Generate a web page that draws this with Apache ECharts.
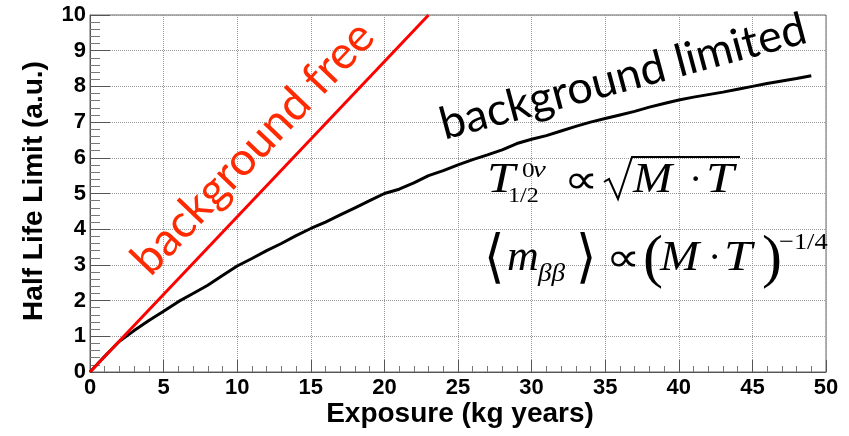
<!DOCTYPE html>
<html>
<head>
<meta charset="utf-8">
<script src="https://cdn.jsdelivr.net/npm/echarts@6/dist/echarts.min.js"></script>
<style>
html,body{margin:0;padding:0;background:#fff;}
#chart{width:849px;height:436px;}
</style>
</head>
<body>
<div id="chart"></div>
<script>
// ---- data ----
var xTicks = [0, 5, 10, 15, 20, 25, 30, 35, 40, 45, 50];
var yTicks = [0, 1, 2, 3, 4, 5, 6, 7, 8, 9, 10];

var bgFreeX = [0, 23];
var bgFreeY = [0, 10];

var bgLimitedX = [0,1,2,3,4,5,6,7,8,9,10,11,12,13,14,15,16,17,18,19,20,21,22,23,24,25,26,27,28,29,30,31,32,33,34,35,36,37,38,39,40,41,42,43,44,45,46,47,48,49];
var bgLimitedY = [0,0.44,0.86,1.16,1.44,1.70,1.97,2.20,2.43,2.70,2.97,3.18,3.40,3.60,3.82,4.02,4.20,4.40,4.60,4.80,5.00,5.12,5.30,5.50,5.64,5.80,5.95,6.08,6.22,6.40,6.52,6.62,6.75,6.88,7.00,7.10,7.20,7.30,7.42,7.52,7.62,7.70,7.77,7.84,7.92,8.00,8.08,8.15,8.22,8.30];

var xTitle = 'Exposure (kg years)';
var yTitle = 'Half Life Limit (a.u.)';
var labelFree = 'background free';
var labelLimited = 'background limited';

function pairs(xs, ys){ return xs.map(function(x,i){ return [x, ys[i]]; }); }

var chart = echarts.init(document.getElementById('chart'), null, {renderer:'canvas'});

var SERIF = '"Liberation Serif","Times New Roman",serif';
var SANS = '"Liberation Sans",Arial,sans-serif';
var CAL = 'Lato,"Open Sans",sans-serif';

// text helper: x = left (or anchor), base = baseline y
function tx(x, base, text, size, opt){
  opt = opt || {};
  return {
    type:'text', x:x, y: base - 0.34*size, scaleX: opt.sx || 1, z:100,
    style:{
      text:text, fontSize:size, fontFamily: opt.family || SERIF,
      fontStyle: opt.italic ? 'italic' : 'normal',
      fontWeight: opt.bold ? 'bold' : 'normal',
      fill: opt.color || '#000', align: opt.align || 'left', verticalAlign:'middle'
    }
  };
}

var graphics = [
  // axis titles
  {type:'text', x:460, y:414, z:100,
   style:{text:xTitle, fontSize:28, fontFamily:SANS, fontWeight:'bold', fill:'#000', align:'center', verticalAlign:'middle'}},
  {type:'text', x:34, y:191, rotation:Math.PI/2, z:100,
   style:{text:yTitle, fontSize:28, fontFamily:SANS, fontWeight:'bold', fill:'#000', align:'center', verticalAlign:'middle'}},
  // annotations
  {type:'text', x:253, y:148, rotation:46.5*Math.PI/180, z:100,
   style:{text:labelFree, fontSize:46, fontFamily:CAL, fill:'#ff2a00', align:'center', verticalAlign:'middle'}},
  {type:'text', x:623, y:77, rotation:15*Math.PI/180, z:100,
   style:{text:labelLimited, fontSize:45, fontFamily:CAL, fill:'#000', align:'center', verticalAlign:'middle'}},
  // formula 1: T^{0v}_{1/2} ∝ sqrt(M·T)
  tx(487, 195, 'T', 42, {italic:true, sx:1.2}),
  tx(522, 179, '0', 22, {sx:1.15}),
  tx(533, 179, 'ν', 24, {italic:true, sx:1.2}),
  tx(508, 204, '1/2', 22, {sx:1.1}),
  tx(564, 196, '∝', 40, {sx:1.2}),
  {type:'polyline', z:100, shape:{points:[[604,182],[609,179],[618,199],[632,157],[740,157]]},
   style:{stroke:'#000', lineWidth:2, fill:null}},
  tx(633, 195, 'M', 42, {italic:true, sx:1.12}),
  tx(689, 195, '·', 40, {}),
  tx(706, 195, 'T', 42, {italic:true, sx:1.2}),
  // formula 2: <m_ββ> ∝ (M·T)^{-1/4}
  tx(484, 280, '⟨', 58, {sx:0.9}),
  tx(507, 273, 'm', 44, {italic:true, sx:1.0}),
  tx(538, 283, 'ββ', 26, {italic:true, sx:1.05}),
  tx(576, 280, '⟩', 58, {sx:0.9}),
  tx(606, 274, '∝', 40, {sx:1.2}),
  tx(643, 281, '(', 60, {}),
  tx(660, 273, 'M', 42, {italic:true, sx:1.12}),
  tx(708, 273, '·', 40, {}),
  tx(724, 273, 'T', 42, {italic:true, sx:1.2}),
  tx(762, 281, ')', 60, {}),
  tx(779, 251, '−1/4', 24, {sx:1.1})
];

var axisLabelStyle = {color:'#000', fontSize:22, fontWeight:'bold', fontFamily:SANS};

chart.setOption({
  animation:false,
  backgroundColor:'#fff',
  grid:{left:90, right:23, top:15, bottom:64, show:true, borderColor:'#666', borderWidth:1, backgroundColor:'transparent'},
  xAxis:{
    type:'value', min:xTicks[0], max:xTicks[xTicks.length-1], interval:xTicks[1]-xTicks[0],
    axisLine:{show:true, onZero:false, lineStyle:{color:'#555', width:1}},
    axisTick:{show:true, inside:true, length:12, lineStyle:{color:'#555'}},
    minorTick:{show:true, splitNumber:5, length:6, lineStyle:{color:'#777'}},
    splitLine:{show:true, lineStyle:{color:'#999', type:'dotted', width:1}},
    axisLabel:Object.assign({margin:5, formatter:function(v){return xTicks.indexOf(v)>=0? String(v):'';}}, axisLabelStyle)
  },
  yAxis:{
    type:'value', min:yTicks[0], max:yTicks[yTicks.length-1], interval:yTicks[1]-yTicks[0],
    axisLine:{show:true, onZero:false, lineStyle:{color:'#555', width:1}},
    axisTick:{show:true, inside:true, length:20, lineStyle:{color:'#555'}},
    minorTick:{show:true, splitNumber:5, length:10, lineStyle:{color:'#777'}},
    splitLine:{show:true, lineStyle:{color:'#999', type:'dotted', width:1}},
    axisLabel:Object.assign({margin:4, formatter:function(v){return yTicks.indexOf(v)>=0? String(v):'';}}, axisLabelStyle)
  },
  series:[
    {type:'line', name:labelLimited, data:pairs(bgLimitedX, bgLimitedY), showSymbol:false, symbol:'none',
     lineStyle:{color:'#000', width:3}, itemStyle:{color:'#000'}, z:3},
    {type:'line', name:labelFree, data:pairs(bgFreeX, bgFreeY), showSymbol:false, symbol:'none',
     lineStyle:{color:'#ff0000', width:3}, itemStyle:{color:'#ff0000'}, z:4}
  ],
  graphic:graphics
});
</script>
</body>
</html>
